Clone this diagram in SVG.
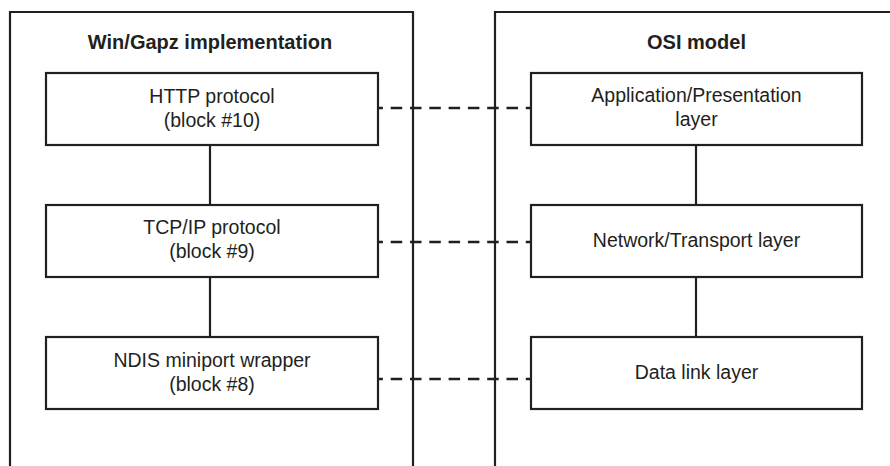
<svg xmlns="http://www.w3.org/2000/svg" width="890" height="466" viewBox="0 0 890 466">
<style>
.panel{fill:none;stroke:#231f20;stroke-width:2.2}
.box{fill:#ffffff;stroke:#231f20;stroke-width:2.2}
.solid{stroke:#231f20;stroke-width:2.2;fill:none}
.dash{stroke:#231f20;stroke-width:2.5;fill:none;stroke-dasharray:11.5 7.8;stroke-dashoffset:5.6}
.t{font-family:"Liberation Sans",Arial,sans-serif;font-size:19.5px;fill:#231f20;text-anchor:middle}
.h{font-family:"Liberation Sans",Arial,sans-serif;font-size:20px;font-weight:bold;fill:#231f20;text-anchor:middle}
</style>
<rect width="890" height="466" fill="#ffffff"/>
<g id="panel-left">
<path class="panel" d="M10,467 V12 H413 V467"/>
<text class="h" x="210" y="49">Win/Gapz implementation</text>
</g>
<g id="panel-right">
<path class="panel" d="M495,467 V12 H892"/>
<text class="h" x="696.5" y="49">OSI model</text>
</g>
<g id="connectors">
<line class="solid" x1="210" y1="145" x2="210" y2="205"/>
<line class="solid" x1="210" y1="277" x2="210" y2="337"/>
<line class="solid" x1="696" y1="145" x2="696" y2="205"/>
<line class="solid" x1="696" y1="277" x2="696" y2="337"/>
<line class="dash" x1="377" y1="108" x2="532" y2="108"/>
<line class="dash" x1="377" y1="242" x2="532" y2="242"/>
<line class="dash" x1="377" y1="379" x2="532" y2="379"/>
</g>
<g id="http">
<rect class="box" x="46" y="73" width="332" height="72"/>
<text class="t" x="212" y="103">HTTP protocol</text>
<text class="t" x="212" y="127">(block #10)</text>
</g>
<g id="tcpip">
<rect class="box" x="46" y="205" width="332" height="72"/>
<text class="t" x="212" y="234">TCP/IP protocol</text>
<text class="t" x="212" y="258">(block #9)</text>
</g>
<g id="ndis">
<rect class="box" x="46" y="337" width="332" height="72"/>
<text class="t" x="212" y="367">NDIS miniport wrapper</text>
<text class="t" x="212" y="391">(block #8)</text>
</g>
<g id="app">
<rect class="box" x="531" y="73" width="331" height="72"/>
<text class="t" x="696.5" y="102">Application/Presentation</text>
<text class="t" x="696.5" y="126">layer</text>
</g>
<g id="network">
<rect class="box" x="531" y="205" width="331" height="72"/>
<text class="t" x="696.5" y="247">Network/Transport layer</text>
</g>
<g id="datalink">
<rect class="box" x="531" y="337" width="331" height="72"/>
<text class="t" x="696.5" y="379">Data link layer</text>
</g>
</svg>
